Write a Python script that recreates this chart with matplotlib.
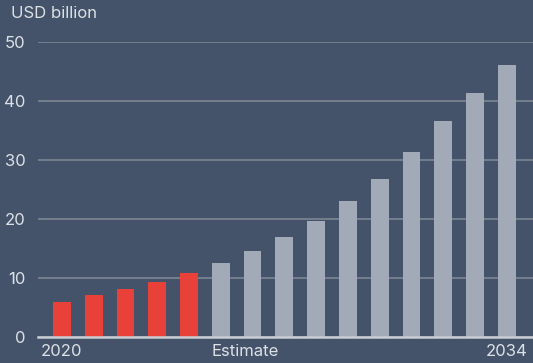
import matplotlib.pyplot as plt

years = list(range(2020, 2035))
values = [5.9, 7.1, 8.1, 9.3, 10.85, 12.55, 14.6, 17.0, 19.7, 23.1, 26.8, 31.3, 36.6, 41.4, 46.1]
n_actual = 5  # 2020-2024 are actuals, rest are estimates
yticks = [0, 10, 20, 30, 40, 50]

BG = "#44536a"
RED = "#e8413a"
GREY = "#a3aab7"
TEXT = "#dde1e6"

plt.rcParams["font.family"] = ["Inter", "DejaVu Sans"]

fig = plt.figure(figsize=(5.33, 3.63), dpi=100, facecolor=BG)
ax = fig.add_axes([38 / 533, 26.3 / 363, 1 - 38 / 533, (336.7 - 42) / 363], facecolor=BG)

x = list(range(len(years)))
colors = [RED if i < n_actual else GREY for i in x]
ax.bar(x, values, width=0.56, color=colors, zorder=2)

ax.set_xlim(-0.75, 14.82)
ax.set_ylim(0, 50)
ax.set_yticks(yticks)
ax.set_yticklabels([str(t) for t in yticks], color=TEXT, fontsize=12)
ax.tick_params(axis="y", length=0, pad=9)
ax.set_xticks([])
ax.grid(axis="y", color="#7d8694", linewidth=1.2, zorder=1)
ax.axhline(0, color="#c9cdd4", linewidth=1.8, zorder=3, clip_on=False)
for s in ax.spines.values():
    s.set_visible(False)

ax.text(0, -0.025, str(years[0]), transform=ax.get_xaxis_transform(),
        ha="center", va="top", color=TEXT, fontsize=12)
ax.text(n_actual - 0.28, -0.025, "Estimate", transform=ax.get_xaxis_transform(),
        ha="left", va="top", color=TEXT, fontsize=12)
ax.text(len(years) - 1, -0.025, str(years[-1]), transform=ax.get_xaxis_transform(),
        ha="center", va="top", color=TEXT, fontsize=12)

fig.text(11 / 533, 1 - 6 / 363, "USD billion", ha="left", va="top", color=TEXT, fontsize=12)

fig.savefig("out.png", dpi=100, facecolor=BG)
